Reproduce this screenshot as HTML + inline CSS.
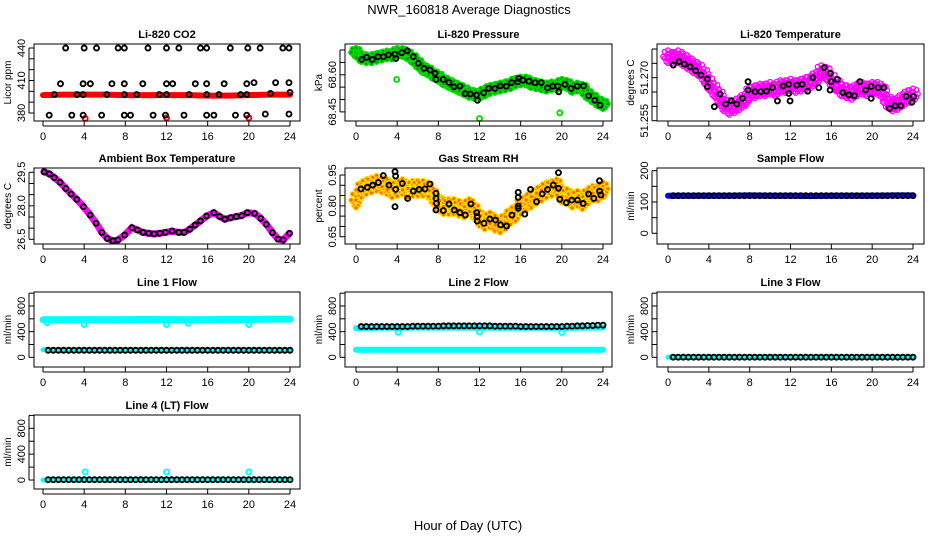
<!DOCTYPE html>
<html><head><meta charset="utf-8"><style>
html,body{margin:0;padding:0;background:#fff;}
svg{display:block;font-family:"Liberation Sans",Arial,sans-serif;}
</style></head><body>
<svg id="chart" width="936" height="540" viewBox="0 0 936 540" xmlns="http://www.w3.org/2000/svg">
<text x="469" y="14" font-size="13" text-anchor="middle">NWR_160818  Average Diagnostics</text>
<text x="468" y="530" font-size="13" text-anchor="middle">Hour of Day (UTC)</text>
</svg>
<script>
// ---------- data ----------
const co2HiHours=[2.2,4.0,5.2,7.3,7.9,10.2,12.0,13.2,15.3,15.9,18.2,19.9,21.1,23.3,23.9];
const co2HiVals=[440,440,440,440,440,440,440,440,440,440,440,440,440,440,440];
const co2MidHours=[1.7,3.9,4.6,6.7,7.9,9.7,12.0,12.6,14.8,15.9,17.6,19.8,20.5,22.6,23.9];
const co2MidVals=[407,407,407,407,407,407,407,407,407,407,407,407,408,408,408];
const co2LoHours=[1.1,3.3,3.9,6.2,7.9,9.1,11.3,12.0,14.2,15.9,17.1,19.2,19.8,22.1,24.0];
const co2LoVals=[397,397,397,397,397,397,397,397,397,397,397,397,397,398,399];
const co2BotHours=[0.6,2.8,3.9,5.7,7.9,8.5,10.7,11.9,13.7,15.9,16.6,18.7,19.8,21.6,23.9];
const co2BotVals=[378,378,378,378,378,378,378,378,378,378,378,378,378,379,379];
const co2RedHours=[0,2,4,6,8,10,12,14,16,18,20,22,24];
const co2RedVals=[396.5,397,397,397,396.5,396.5,396.5,396.5,396,396,396.5,397,397];
const co2RedOutHours=[4.1,12.0,20.0];
const co2RedOutVals=[375,375.5,375.5];

const presHours=[0.55,1.04,1.58,2.11,2.65,3.14,3.79,3.88,4.44,4.98,5.56,6.05,6.6,7.18,7.67,7.77,8.48,9.03,9.51,10.1,10.6,11.1,11.7,11.8,12.4,12.9,13.5,14.0,14.6,15.1,15.7,15.8,16.2,16.8,17.4,18.0,18.6,19.1,19.6,19.7,20.3,20.9,21.5,22.1,22.6,23.2,23.7];
const presVals=[68.662,68.670,68.662,68.673,68.673,68.680,68.683,68.666,68.689,68.697,68.673,68.646,68.626,68.619,68.606,68.581,68.581,68.569,68.551,68.554,68.524,68.522,68.518,68.497,68.527,68.545,68.545,68.555,68.554,68.568,68.572,68.585,68.578,68.574,68.568,68.568,68.547,68.554,68.554,68.531,68.561,68.545,68.554,68.555,68.515,68.497,68.477];
const presCloudVals=[68.69,68.67,68.665,68.665,68.67,68.675,68.68,68.68,68.69,68.69,68.68,68.665,68.645,68.625,68.615,68.60,68.59,68.575,68.565,68.555,68.545,68.535,68.525,68.52,68.52,68.53,68.54,68.545,68.55,68.555,68.56,68.57,68.575,68.575,68.565,68.56,68.555,68.55,68.555,68.555,68.565,68.56,68.545,68.55,68.545,68.52,68.505,68.49,68.48];
const presOutHours=[3.95,12.0,19.8];
const presOutVals=[68.581,68.423,68.446];

const tempHours=[0.52,1.08,1.60,2.16,2.71,3.24,3.86,3.86,4.54,5.10,5.65,6.18,6.73,7.29,7.84,7.84,8.53,9.08,9.64,10.23,10.72,11.27,11.83,11.83,11.96,12.61,13.14,13.69,14.18,14.77,15.29,15.88,15.88,15.98,16.60,17.12,17.71,18.27,18.79,19.35,19.90,19.90,20.59,21.14,21.70,22.25,22.81,23.33,23.89,24.05];
const tempVals=[51.2744,51.2756,51.2747,51.2738,51.2724,51.2709,51.2695,51.2669,51.2599,51.2643,51.2608,51.2620,51.2608,51.2628,51.2657,51.2686,51.2651,51.2651,51.2653,51.2665,51.2619,51.2671,51.2677,51.2645,51.2619,51.2674,51.2677,51.2653,51.2700,51.2665,51.2735,51.2715,51.2657,51.2686,51.2694,51.2648,51.2640,51.2637,51.2686,51.2657,51.2628,51.2669,51.2665,51.2665,51.2593,51.2602,51.2602,51.2635,51.2614,51.2634];
const tempCloudVals=[51.2773,51.2767,51.2773,51.2762,51.2750,51.2738,51.2727,51.2709,51.2680,51.2657,51.2634,51.2605,51.2593,51.2599,51.2610,51.2622,51.2645,51.2651,51.2657,51.2657,51.2663,51.2657,51.2669,51.2669,51.2674,51.2669,51.2674,51.2680,51.2686,51.2698,51.2721,51.2715,51.2692,51.2674,51.2657,51.2651,51.2645,51.2657,51.2663,51.2657,51.2663,51.2663,51.2651,51.2616,51.2605,51.2610,51.2622,51.2634,51.2640];

const ambHours=[0.1,0.62,1.1,1.66,2.21,2.73,3.28,3.93,4.58,5.16,5.72,6.24,6.79,7.28,7.93,8.64,9.16,9.71,10.27,10.79,11.34,11.89,12.54,13.19,13.71,14.26,14.78,15.3,15.89,16.6,17.16,17.67,18.23,18.78,19.3,19.85,20.56,21.15,21.7,22.29,22.84,23.33,23.95];
const ambVals=[29.52,29.43,29.26,29.05,28.78,28.53,28.29,27.96,27.59,27.22,26.81,26.54,26.43,26.47,26.69,27.02,26.92,26.81,26.77,26.74,26.77,26.81,26.87,26.81,26.81,26.95,27.14,27.32,27.54,27.69,27.52,27.40,27.47,27.52,27.56,27.69,27.66,27.44,27.17,26.80,26.51,26.47,26.77];

const rhHours=[0.48,1.1,1.62,2.17,2.65,3.2,3.79,3.85,3.85,3.79,4.5,5.02,5.57,6.12,6.70,7.18,7.77,7.77,7.83,7.77,8.48,9.03,9.55,10.10,10.62,11.16,11.72,11.78,11.78,12.43,13.01,13.56,14.05,14.63,15.15,15.76,15.76,15.76,15.76,16.4,16.96,17.54,18.09,18.61,19.16,19.67,19.67,19.8,20.42,20.97,21.52,22.07,22.59,23.11,23.66,23.66,23.79];
const rhVals=[0.882,0.890,0.901,0.913,0.947,0.901,0.966,0.945,0.880,0.796,0.909,0.836,0.872,0.880,0.882,0.906,0.861,0.836,0.812,0.780,0.777,0.809,0.780,0.767,0.755,0.809,0.767,0.747,0.726,0.715,0.736,0.731,0.707,0.702,0.755,0.799,0.788,0.841,0.866,0.760,0.880,0.820,0.858,0.880,0.901,0.885,0.961,0.832,0.815,0.828,0.828,0.812,0.858,0.836,0.872,0.922,0.853];
const rhCloudVals=[0.828,0.877,0.893,0.901,0.909,0.901,0.893,0.877,0.885,0.893,0.877,0.885,0.885,0.885,0.877,0.845,0.812,0.796,0.796,0.796,0.788,0.780,0.796,0.772,0.739,0.723,0.731,0.715,0.707,0.723,0.747,0.764,0.796,0.812,0.828,0.845,0.861,0.877,0.885,0.893,0.853,0.845,0.828,0.836,0.820,0.845,0.861,0.861,0.877];

const flowHours=[0.5,1,1.5,2,2.5,3,3.5,4,4.5,5,5.5,6,6.5,7,7.5,8,8.5,9,9.5,10,10.5,11,11.5,12,12.5,13,13.5,14,14.5,15,15.5,16,16.5,17,17.5,18,18.5,19,19.5,20,20.5,21,21.5,22,22.5,23,23.5,24];
const bandHours=[0,2,4,6,8,10,12,14,16,18,20,22,24];
const sampleVals=[120,120,120,120,120,120,120,120,120,120,120,120,120,120,120,120,120,120,120,120,120,120,120,120,120,120,120,120,120,120,120,120,120,120,120,120,120,120,120,120,120,120,120,120,120,120,120,120];
const sampleBand=[120,120,120,120,121,120,120,119,120,120,120,121,121];
const line1Vals=[110,110,110,110,110,110,110,110,110,110,110,110,110,110,110,110,110,110,110,110,110,110,110,110,110,110,110,110,110,110,110,110,110,110,110,110,110,110,110,110,110,110,110,110,110,110,110,110];
const line1HighBand=[585,585,588,585,588,590,588,585,588,590,590,595,595];
const line1LowBand=[118,118,118,118,118,118,118,118,118,118,118,118,118];
const line1OutHours=[0.4,4.0,12.0,20.0,14.1];
const line1OutVals=[540,510,510,510,530];
const line2Vals=[480,480,480,480,480,480,480,480,480,480,485,485,485,485,485,485,490,490,490,490,490,490,490,490,490,490,485,485,485,485,485,480,480,480,480,480,480,480,480,480,485,485,490,490,495,495,500,500];
const line2HighBand=[455,460,460,462,462,462,462,460,460,460,458,462,465];
const line2LowBand=[118,118,118,118,118,118,118,118,118,118,118,118,118];
const line2OutHours=[4.1,12.0,20.0];
const line2OutVals=[390,395,385];
const line3Vals=[2,2,2,2,2,2,2,2,2,2,2,2,2,2,2,2,2,2,2,2,2,2,2,2,2,2,2,2,2,2,2,2,2,2,2,2,2,2,2,2,2,2,2,2,2,2,2,2];
const line3Band=[0,0,0,0,0,0,0,0,0,0,0,0,0];
const line4Vals=[5,5,5,5,5,5,5,5,5,5,5,5,5,5,5,5,5,5,5,5,5,5,5,5,5,5,5,5,5,5,5,5,5,5,5,5,5,5,5,5,5,5,5,5,5,5,5,5];
const line4Band=[0,0,0,0,0,0,0,0,0,0,0,0,0];
const line4OutHours=[4.1,12.0,20.0];
const line4OutVals=[125,125,125];
const xTicks=[0,4,8,12,16,20,24];

// ---------- layout ----------
const NS="http://www.w3.org/2000/svg";
const svg=document.getElementById('chart');
const cols=[{l:34,r:300,x0:43,x24:290},{l:345,r:612,x0:356,x24:603},{l:657,r:924,x0:668,x24:913}];
const rows=[{t:44,b:121},{t:168,b:244},{t:292,b:367},{t:415,b:489}];
const pat=[[-1,-1],[0,-0.6],[1,-1],[-1,0.3],[0,0],[1,0.4],[-0.5,1],[0.6,0.9],[0,-1.3],[-1.4,0],[1.4,-0.2],[0,1.3]];

function mk(tag,attrs,parent){const e=document.createElementNS(NS,tag);for(const k in attrs)e.setAttribute(k,attrs[k]);(parent||svg).appendChild(e);return e;}

function panel(ci,ri,name,title,ylab,ymin,ymax,ticks,labels,dec){
  const c=cols[ci],r=rows[ri];
  const g=mk('g',{});
  
  
  const xs=h=>c.x0+h*(c.x24-c.x0)/24;
  const ys=v=>r.b-(v-ymin)/(ymax-ymin)*(r.b-r.t);
  const t=mk('text',{x:(c.l+c.r)/2,y:r.t-6,'font-size':11,'font-weight':'bold','text-anchor':'middle'},g);
  t.textContent=title;
  
  
  const yl=mk('text',{transform:`translate(${c.l-23},${(r.t+r.b)/2}) rotate(-90)`,'font-size':10,'text-anchor':'middle'},g);
  yl.textContent=ylab;
  
  
  xTicks.forEach(h=>{
    mk('line',{x1:xs(h),x2:xs(h),y1:r.b,y2:r.b+5,stroke:'#000','stroke-width':1},g);
    const tl=mk('text',{x:xs(h),y:r.b+19,'font-size':11,'text-anchor':'middle'},g);
    tl.textContent=String(h);
    
    
  });
  mk('line',{x1:xs(0),x2:xs(24),y1:r.b+5,y2:r.b+5,stroke:'#000','stroke-width':1},g);
  ticks.forEach(v=>{mk('line',{x1:c.l-5,x2:c.l,y1:ys(v),y2:ys(v),stroke:'#000','stroke-width':1},g);});
  mk('line',{x1:c.l-5,x2:c.l-5,y1:ys(ticks[0]),y2:ys(ticks[ticks.length-1]),stroke:'#000','stroke-width':1},g);
  labels.forEach(v=>{
    const tl=mk('text',{transform:`translate(${c.l-9},${ys(v)}) rotate(-90)`,'font-size':11,'text-anchor':'middle'},g);
    tl.textContent=v.toFixed(dec||0);
    
    
  });
  const plot=mk('g',{},g);
  
  
  const box=mk('rect',{x:c.l,y:r.t,width:c.r-c.l,height:r.b-r.t,fill:'none',stroke:'#000','stroke-width':1},g);
  
  
  return {xs,ys,plot};
}
function pts(P,hours,vals,color,opt){
  opt=opt||{};
  hours.forEach((h,i)=>{
    const e=mk('circle',{cx:P.xs(h),cy:P.ys(vals[i]),r:opt.r||2.5,fill:opt.fill||'none',stroke:color,'stroke-width':opt.sw||1.9},P.plot);
    
    
  });
}
function cloud(P,vals,color,sp,fill){
  vals.forEach((v,i)=>{
    const h=i*0.5;
    pat.forEach(o=>{
      const e=mk('circle',{cx:P.xs(h)+o[0]*3.5,cy:P.ys(v)+o[1]*sp,r:2.3,fill:fill||'none',stroke:color,'stroke-width':1.3},P.plot);
      
      
    });
  });
}
function band(P,hours,vals,color,w){
  const d=hours.map((h,i)=>(i?'L':'M')+P.xs(h)+','+P.ys(vals[i])).join(' ');
  const e=mk('path',{d:d,fill:'none',stroke:color,'stroke-width':w,'stroke-linecap':'round'},P.plot);
  
  
}

// CO2
let P=panel(0,0,'co2-panel','Li-820 CO2','Licor ppm',372.6,443.7,[380,390,400,410,420,430,440],[380,410,440],0);
band(P,co2RedHours,co2RedVals,'#ff0000',6);
pts(P,co2RedOutHours,co2RedOutVals,'#ff0000');
pts(P,co2HiHours,co2HiVals,'#000');pts(P,co2MidHours,co2MidVals,'#000');
pts(P,co2LoHours,co2LoVals,'#000');pts(P,co2BotHours,co2BotVals,'#000');
// Pressure
P=panel(1,0,'pressure-panel','Li-820 Pressure','kPa',68.4132,68.7243,[68.45,68.50,68.55,68.60,68.65,68.70],[68.45,68.60],2);
cloud(P,presCloudVals,'#00e000',3.5,'#00a000');
pts(P,presOutHours,presOutVals,'#00e000');
pts(P,presHours,presVals,'#000');
// Temperature
P=panel(2,0,'temperature-panel','Li-820 Temperature','degrees C',51.2549,51.28174,[51.255,51.260,51.265,51.270,51.275,51.280],[51.255,51.270],3);
cloud(P,tempCloudVals,'#ff00ff',5);
pts(P,tempHours,tempVals,'#000');
// Ambient
P=panel(0,1,'ambient-panel','Ambient Box Temperature','degrees C',26.29,29.693,[26.5,27.0,27.5,28.0,28.5,29.0,29.5],[26.5,28.0,29.5],1);
band(P,ambHours,ambVals,'#ff00ff',7);
pts(P,ambHours,ambVals,'#000');
// RH
P=panel(1,1,'rh-panel','Gas Stream RH','percent',0.6145,0.984,[0.65,0.70,0.75,0.80,0.85,0.90,0.95],[0.65,0.80,0.95],2);
cloud(P,rhCloudVals,'#ffdd00',6,'#ff6600');
pts(P,rhHours,rhVals,'#000');
// Sample flow
P=panel(2,1,'sample-flow-panel','Sample Flow','ml/min',-34.2,208.6,[0,50,100,150,200],[0,100,200],0);
band(P,bandHours,sampleBand,'#0000ff',6);
pts(P,flowHours,sampleVals,'#000');
// Line flows
const fT=[0,200,400,600,800,1000],fL=[0,400,800];
P=panel(0,2,'line1-flow-panel','Line 1 Flow','ml/min',-151,1018,fT,fL,0);
band(P,bandHours,line1HighBand,'#00ffff',7);band(P,bandHours,line1LowBand,'#00ffff',5);
pts(P,line1OutHours,line1OutVals,'#00ffff');
pts(P,flowHours,line1Vals,'#000');
P=panel(1,2,'line2-flow-panel','Line 2 Flow','ml/min',-151,1018,fT,fL,0);
band(P,bandHours,line2HighBand,'#00ffff',6);band(P,bandHours,line2LowBand,'#00ffff',6);
pts(P,line2OutHours,line2OutVals,'#00ffff');
pts(P,flowHours,line2Vals,'#000');
P=panel(2,2,'line3-flow-panel','Line 3 Flow','ml/min',-151,1018,fT,fL,0);
band(P,bandHours,line3Band,'#00ffff',5);
pts(P,flowHours,line3Vals,'#000');
P=panel(0,3,'line4-flow-panel','Line 4 (LT) Flow','ml/min',-139,1006,fT,fL,0);
band(P,bandHours,line4Band,'#00ffff',5);
pts(P,line4OutHours,line4OutVals,'#00ffff');
pts(P,flowHours,line4Vals,'#000');
</script>
</body></html>
